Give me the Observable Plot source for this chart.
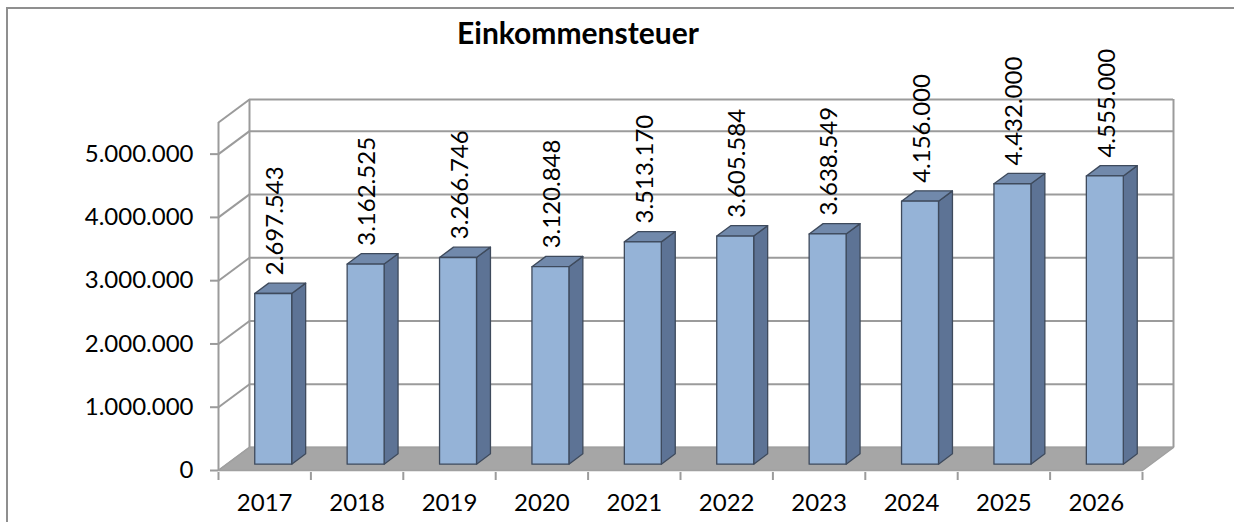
<!DOCTYPE html>
<html>
<head>
<meta charset="utf-8">
<script src="https://cdn.jsdelivr.net/npm/d3@7"></script>
<script src="https://cdn.jsdelivr.net/npm/@observablehq/plot@0.6"></script>
<style>
  html, body { margin: 0; padding: 0; background: #fff; }
  #wrap { position: relative; width: 1234px; height: 522px; overflow: hidden; font-family: Lato, "Open Sans", sans-serif; }
  #border { position: absolute; left: 6px; top: 7px; width: 1240px; height: 540px; border: 2px solid #8f8f8f; box-sizing: border-box; }
  #title { position: absolute; left: 0; width: 1156px; top: 15px; text-align: center; font-weight: bold; font-size: 30px; line-height: 34px; color: #000; }
  #chart { position: absolute; left: 0; top: 0; }
</style>
</head>
<body>
<div id="wrap">
  <div id="border"></div>
  <div id="title">Einkommensteuer</div>
  <div id="chart"></div>
</div>
<script>
// ---- data ----
const years = ["2017", "2018", "2019", "2020", "2021", "2022", "2023", "2024", "2025", "2026"];
const values = [2697543, 3162525, 3266746, 3120848, 3513170, 3605584, 3638549, 4156000, 4432000, 4555000];
const yTicks = [0, 1000000, 2000000, 3000000, 4000000, 5000000];
const yMax = 5500000;

// ---- pseudo-3D geometry (in scale units) ----
const n = years.length;
const DX = 0.3355;      // depth offset along x (category units)
const DY = 363500;      // depth offset along y (value units)
const b0 = 0.275, bd = 0.45;   // bar depth start / depth fraction
const bw0 = 0.3, bw1 = 0.7;    // bar front face within band

const de = d3.formatLocale({decimal: ",", thousands: ".", grouping: [3], currency: ["", " €"]});
const fmt = de.format(",d");

const bars = values.map((v, i) => ({i, v, year: years[i]}));

// faces as polygons
const frontFaces = bars.flatMap(b => {
  const x1 = b.i + bw0 + b0 * DX, x2 = b.i + bw1 + b0 * DX, y0 = b0 * DY, y1 = b.v + b0 * DY;
  return [[x1, y0], [x2, y0], [x2, y1], [x1, y1], [x1, y0]].map(([x, y]) => ({x, y, z: b.i}));
});
const sideFaces = bars.flatMap(b => {
  const x2 = b.i + bw1 + b0 * DX, y0 = b0 * DY, y1 = b.v + b0 * DY;
  return [[x2, y0], [x2 + bd * DX, y0 + bd * DY], [x2 + bd * DX, y1 + bd * DY], [x2, y1], [x2, y0]].map(([x, y]) => ({x, y, z: b.i}));
});
const topFaces = bars.flatMap(b => {
  const x1 = b.i + bw0 + b0 * DX, x2 = b.i + bw1 + b0 * DX, y1 = b.v + b0 * DY;
  return [[x1, y1], [x2, y1], [x2 + bd * DX, y1 + bd * DY], [x1 + bd * DX, y1 + bd * DY], [x1, y1]].map(([x, y]) => ({x, y, z: b.i}));
});
const floor = [[0, 0], [n, 0], [n + DX, DY], [DX, DY], [0, 0]].map(([x, y]) => ({x, y}));
const wallLevels = [...yTicks, yMax];

const gridColor = "#9b9b9b";
const barStroke = "#3e4a5c";

const chart = Plot.plot({
  width: 1234,
  height: 522,
  marginLeft: 218,
  marginRight: 92,
  marginTop: 122,
  marginBottom: 52,
  style: {fontFamily: "Lato, 'Open Sans', sans-serif", background: "transparent"},
  x: {domain: [0, n], label: null},
  y: {domain: [0, yMax], label: null},
  marks: [
    // back wall gridlines
    Plot.ruleY(wallLevels, {y: d => d + DY, x1: DX, x2: n + DX, stroke: gridColor, strokeWidth: 2}),
    // back wall vertical edges
    Plot.ruleX([DX, n + DX], {y1: DY, y2: yMax + DY, stroke: gridColor, strokeWidth: 2}),
    // side wall diagonals
    Plot.link(wallLevels, {x1: 0, y1: d => d, x2: DX, y2: d => d + DY, stroke: gridColor, strokeWidth: 2}),
    // front-left wall edge
    Plot.ruleX([0], {y1: 0, y2: yMax, stroke: gridColor, strokeWidth: 2}),
    // floor
    Plot.line(floor, {x: "x", y: "y", fill: "#a6a6a6", stroke: "#a0a0a0", strokeWidth: 1.5}),
    // bars
    Plot.line(sideFaces, {x: "x", y: "y", z: "z", fill: "#5d7395", stroke: barStroke, strokeWidth: 1.3, strokeLinejoin: "round"}),
    Plot.line(topFaces, {x: "x", y: "y", z: "z", fill: "#7189ab", stroke: barStroke, strokeWidth: 1.3, strokeLinejoin: "round"}),
    Plot.line(frontFaces, {x: "x", y: "y", z: "z", fill: "#95b3d7", stroke: barStroke, strokeWidth: 1.3, strokeLinejoin: "round"}),
    // value labels
    Plot.text(bars, {
      x: d => d.i + 0.5 + b0 * DX, y: d => d.v + (b0 + bd) * DY,
      text: d => fmt(d.v), rotate: -90, textAnchor: "start", dy: -8, dx: 2,
      fontSize: 24, fill: "#000"
    }),
    // y axis
    Plot.axisY(yTicks, {anchor: "left", label: null, tickSize: 8, tickPadding: 17, tickFormat: fmt, fontSize: 24, stroke: gridColor, strokeWidth: 2, fill: "#000"}),
    // x axis ticks at category boundaries
    Plot.axisX(d3.range(n + 1), {anchor: "bottom", label: null, tickSize: 8, tickFormat: () => "", stroke: gridColor, strokeWidth: 2, dy: 2}),
    // category labels
    Plot.text(bars, {x: d => d.i + 0.5, y: 0, text: "year", dy: 33, fontSize: 24, fill: "#000"})
  ]
});
document.getElementById("chart").appendChild(chart);
</script>
</body>
</html>
